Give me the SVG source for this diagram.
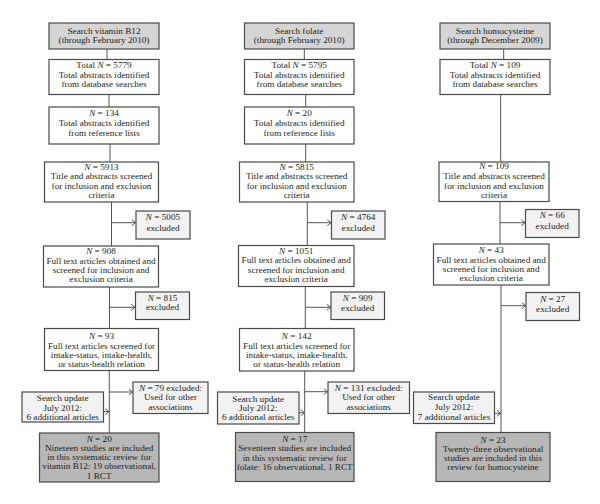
<svg xmlns="http://www.w3.org/2000/svg" width="600" height="504" viewBox="0 0 600 504">
<defs>
<marker id="ah" markerUnits="userSpaceOnUse" markerWidth="6" markerHeight="8" refX="4.5" refY="3.5" orient="auto">
<path d="M0.8,0.5 L4.5,3.5 L0.8,6.5" fill="none" stroke="#555" stroke-width="1"/>
</marker>
<style>
rect{stroke:#4a4a4a;stroke-width:1.2}
.s{fill:#d5d5d5}
.w{fill:#ffffff}
.x{fill:#f2f2f2}
.f{fill:#b7b7b7}
text{font-family:"Liberation Serif","Times New Roman",serif;font-size:9.2px;fill:#231f20;text-anchor:middle}
.i{font-style:italic}
.c line,.c path{stroke:#555;stroke-width:1;fill:none}
.a{marker-end:url(#ah)}
</style>
</defs>
<rect width="600" height="504" fill="#fff" style="stroke:none"/>

<g class="c" id="connectors">
<line x1="107" y1="49" x2="107" y2="59.5"/>
<line x1="109" y1="94.5" x2="109" y2="107"/>
<line x1="110" y1="144" x2="110" y2="162"/>
<line x1="111.5" y1="202" x2="111.5" y2="246"/>
<line x1="109.5" y1="287" x2="109.5" y2="328.5"/>
<line x1="109.3" y1="370.5" x2="109.3" y2="433"/>
<line class="a" x1="111.5" y1="222.7" x2="135.5" y2="222.7"/>
<line class="a" x1="109.5" y1="307.3" x2="135" y2="307.3"/>
<line class="a" x1="109.3" y1="392" x2="132.5" y2="392"/>
<line class="a" x1="103.5" y1="411.7" x2="109" y2="411.7"/>

<line x1="304.3" y1="49" x2="304.3" y2="59.5"/>
<line x1="305.7" y1="94.5" x2="305.7" y2="107"/>
<line x1="305.7" y1="144" x2="305.7" y2="162"/>
<line x1="307.3" y1="202" x2="307.3" y2="245.5"/>
<line x1="305.3" y1="286.5" x2="305.3" y2="328.5"/>
<line x1="304.7" y1="371" x2="304.7" y2="432.5"/>
<line class="a" x1="307.3" y1="222.7" x2="331" y2="222.7"/>
<line class="a" x1="305.3" y1="307.3" x2="330.5" y2="307.3"/>
<line class="a" x1="304.7" y1="391.7" x2="327.5" y2="391.7"/>
<line class="a" x1="299" y1="412.7" x2="304.4" y2="412.7"/>

<line x1="503.7" y1="49" x2="503.7" y2="59.5"/>
<line x1="500.7" y1="94.5" x2="500.7" y2="162"/>
<line x1="500" y1="201.5" x2="500" y2="244"/>
<line x1="501" y1="285" x2="501" y2="432.5"/>
<line class="a" x1="500" y1="222.7" x2="525" y2="222.7"/>
<line class="a" x1="501" y1="305.7" x2="525.5" y2="305.7"/>
<line class="a" x1="494.5" y1="413.3" x2="500.7" y2="413.3"/>
</g>

<!-- Column 1: vitamin B12 -->
<g id="b12-search"><rect class="s" x="49" y="23" width="110" height="26"/>
<text x="104" y="33.5">Search vitamin B12</text><text x="104" y="43.3">(through February 2010)</text></g>
<g id="b12-total"><rect class="w" x="49" y="59.5" width="110" height="35"/>
<text x="104" y="67.7">Total <tspan class="i">N</tspan> = 5779</text><text x="104" y="77.5">Total abstracts identified</text><text x="104" y="87.3">from database searches</text></g>
<g id="b12-ref"><rect class="w" x="49" y="107" width="110" height="37"/>
<text x="104" y="116.3"><tspan class="i">N</tspan> = 134</text><text x="104" y="126">Total abstracts identified</text><text x="104" y="135.7">from reference lists</text></g>
<g id="b12-title"><rect class="w" x="44.5" y="162" width="114" height="40"/>
<text x="101.5" y="169.5"><tspan class="i">N</tspan> = 5913</text><text x="101.5" y="179">Title and abstracts screened</text><text x="101.5" y="188.5">for inclusion and exclusion</text><text x="101.5" y="197.5">criteria</text></g>
<g id="b12-ex1"><rect class="x" x="136" y="211" width="54" height="28"/>
<text x="163" y="219.5"><tspan class="i">N</tspan> = 5005</text><text x="163" y="231">excluded</text></g>
<g id="b12-full"><rect class="w" x="43.5" y="246" width="115" height="41"/>
<text x="101" y="254"><tspan class="i">N</tspan> = 908</text><text x="101" y="263.5">Full text articles obtained and</text><text x="101" y="273">screened for inclusion and</text><text x="101" y="282">exclusion criteria</text></g>
<g id="b12-ex2"><rect class="x" x="135.5" y="292" width="54" height="27.5"/>
<text x="162.5" y="300.7"><tspan class="i">N</tspan> = 815</text><text x="162.5" y="310.3">excluded</text></g>
<g id="b12-rel"><rect class="w" x="44.5" y="328.5" width="114" height="42"/>
<text x="101.5" y="338.8"><tspan class="i">N</tspan> = 93</text><text x="101.5" y="348.5">Full text articles screened for</text><text x="101.5" y="357.7">intake-status, intake-health,</text><text x="101.5" y="366.5">or status-health relation</text></g>
<g id="b12-ex3"><rect class="x" x="133" y="382" width="75" height="31.5"/>
<text x="170.5" y="390.7"><tspan class="i">N</tspan> = 79 excluded:</text><text x="170.5" y="400.3">Used for other</text><text x="170.5" y="409.5">associations</text></g>
<g id="b12-update"><rect class="x" x="22" y="392" width="81.5" height="30"/>
<text x="62.7" y="401.3">Search update</text><text x="62.7" y="410.6">July 2012:</text><text x="62.7" y="419.8">6 additional articles</text></g>
<g id="b12-final"><rect class="f" x="39.5" y="433" width="119.5" height="49"/>
<text x="99.2" y="441.5"><tspan class="i">N</tspan> = 20</text><text x="99.2" y="450.8">Nineteen studies are included</text><text x="99.2" y="460.1">in this systematic review for</text><text x="99.2" y="469.4">vitamin B12: 19 observational,</text><text x="99.2" y="478.7">1 RCT</text></g>

<!-- Column 2: folate -->
<g id="fol-search"><rect class="s" x="244.5" y="23" width="109.5" height="26"/>
<text x="299.2" y="33.5">Search folate</text><text x="299.2" y="43.3">(through February 2010)</text></g>
<g id="fol-total"><rect class="w" x="244.5" y="59.5" width="109.5" height="35"/>
<text x="299.2" y="67.7">Total <tspan class="i">N</tspan> = 5795</text><text x="299.2" y="77.5">Total abstracts identified</text><text x="299.2" y="87.3">from database searches</text></g>
<g id="fol-ref"><rect class="w" x="244.5" y="107" width="109.5" height="37"/>
<text x="299.2" y="116.3"><tspan class="i">N</tspan> = 20</text><text x="299.2" y="126">Total abstracts identified</text><text x="299.2" y="135.7">from reference lists</text></g>
<g id="fol-title"><rect class="w" x="239.5" y="162" width="114.5" height="40"/>
<text x="296.7" y="169.5"><tspan class="i">N</tspan> = 5815</text><text x="296.7" y="179">Title and abstracts screened</text><text x="296.7" y="188.5">for inclusion and exclusion</text><text x="296.7" y="197.5">criteria</text></g>
<g id="fol-ex1"><rect class="x" x="331.5" y="211" width="53.5" height="28"/>
<text x="358.2" y="220"><tspan class="i">N</tspan> = 4764</text><text x="358.2" y="230.7">excluded</text></g>
<g id="fol-full"><rect class="w" x="238.5" y="245.5" width="115.5" height="41"/>
<text x="296.2" y="253.8"><tspan class="i">N</tspan> = 1051</text><text x="296.2" y="263.3">Full text articles obtained and</text><text x="296.2" y="272.6">screened for inclusion and</text><text x="296.2" y="281.6">exclusion criteria</text></g>
<g id="fol-ex2"><rect class="x" x="331" y="292" width="53.5" height="27.5"/>
<text x="357.7" y="300.7"><tspan class="i">N</tspan> = 909</text><text x="357.7" y="311">excluded</text></g>
<g id="fol-rel"><rect class="w" x="239.5" y="328.5" width="114.5" height="42.5"/>
<text x="296.7" y="338.8"><tspan class="i">N</tspan> = 142</text><text x="296.7" y="348.5">Full text articles screened for</text><text x="296.7" y="357.7">intake-status, intake-health,</text><text x="296.7" y="366.5">or status-health relation</text></g>
<g id="fol-ex3"><rect class="x" x="328" y="382" width="81.5" height="31.5"/>
<text x="368.7" y="390.7"><tspan class="i">N</tspan> = 131 excluded:</text><text x="368.7" y="400.3">Used for other</text><text x="368.7" y="409.5">associations</text></g>
<g id="fol-update"><rect class="x" x="217.5" y="392" width="81.5" height="32"/>
<text x="258.2" y="401.8">Search update</text><text x="258.2" y="411">July 2012:</text><text x="258.2" y="420.2">6 additional articles</text></g>
<g id="fol-final"><rect class="f" x="235.5" y="432.5" width="118.5" height="49"/>
<text x="294.7" y="441.5"><tspan class="i">N</tspan> = 17</text><text x="294.7" y="451.3">Seventeen studies are included</text><text x="294.7" y="460.5">in this systematic review for</text><text x="294.7" y="469.5">folate: 16 observational, 1 RCT</text></g>

<!-- Column 3: homocysteine -->
<g id="hcy-search"><rect class="s" x="440" y="23" width="110" height="26"/>
<text x="495" y="33.7">Search homocysteine</text><text x="495" y="43.3">(through December 2009)</text></g>
<g id="hcy-total"><rect class="w" x="440" y="59.5" width="110" height="35"/>
<text x="495" y="67.7">Total <tspan class="i">N</tspan> = 109</text><text x="495" y="77.5">Total abstracts identified</text><text x="495" y="87.3">from database searches</text></g>
<g id="hcy-title"><rect class="w" x="439" y="162" width="110" height="39.5"/>
<text x="494" y="169.3"><tspan class="i">N</tspan> = 109</text><text x="494" y="179">Title and abstracts screened</text><text x="494" y="188.7">for inclusion and exclusion</text><text x="494" y="197.5">criteria</text></g>
<g id="hcy-ex1"><rect class="x" x="525.5" y="209.5" width="53.5" height="28"/>
<text x="552.2" y="218.2"><tspan class="i">N</tspan> = 66</text><text x="552.2" y="228.8">excluded</text></g>
<g id="hcy-full"><rect class="w" x="433.5" y="244" width="115.5" height="41"/>
<text x="491.2" y="252.8"><tspan class="i">N</tspan> = 43</text><text x="491.2" y="262.5">Full text articles obtained and</text><text x="491.2" y="271.6">screened for inclusion and</text><text x="491.2" y="280.5">exclusion criteria</text></g>
<g id="hcy-ex2"><rect class="x" x="526" y="292.5" width="53.5" height="28"/>
<text x="552.7" y="301.5"><tspan class="i">N</tspan> = 27</text><text x="552.7" y="312">excluded</text></g>
<g id="hcy-update"><rect class="x" x="413.5" y="392" width="81" height="31.5"/>
<text x="454" y="400.3">Search update</text><text x="454" y="410">July 2012:</text><text x="454" y="419.5">7 additional articles</text></g>
<g id="hcy-final"><rect class="f" x="436" y="432.5" width="114" height="49"/>
<text x="493" y="442.5"><tspan class="i">N</tspan> = 23</text><text x="493" y="452">Twenty-three observational</text><text x="493" y="461.2">studies are included in this</text><text x="493" y="470">review for homocysteine</text></g>
</svg>
